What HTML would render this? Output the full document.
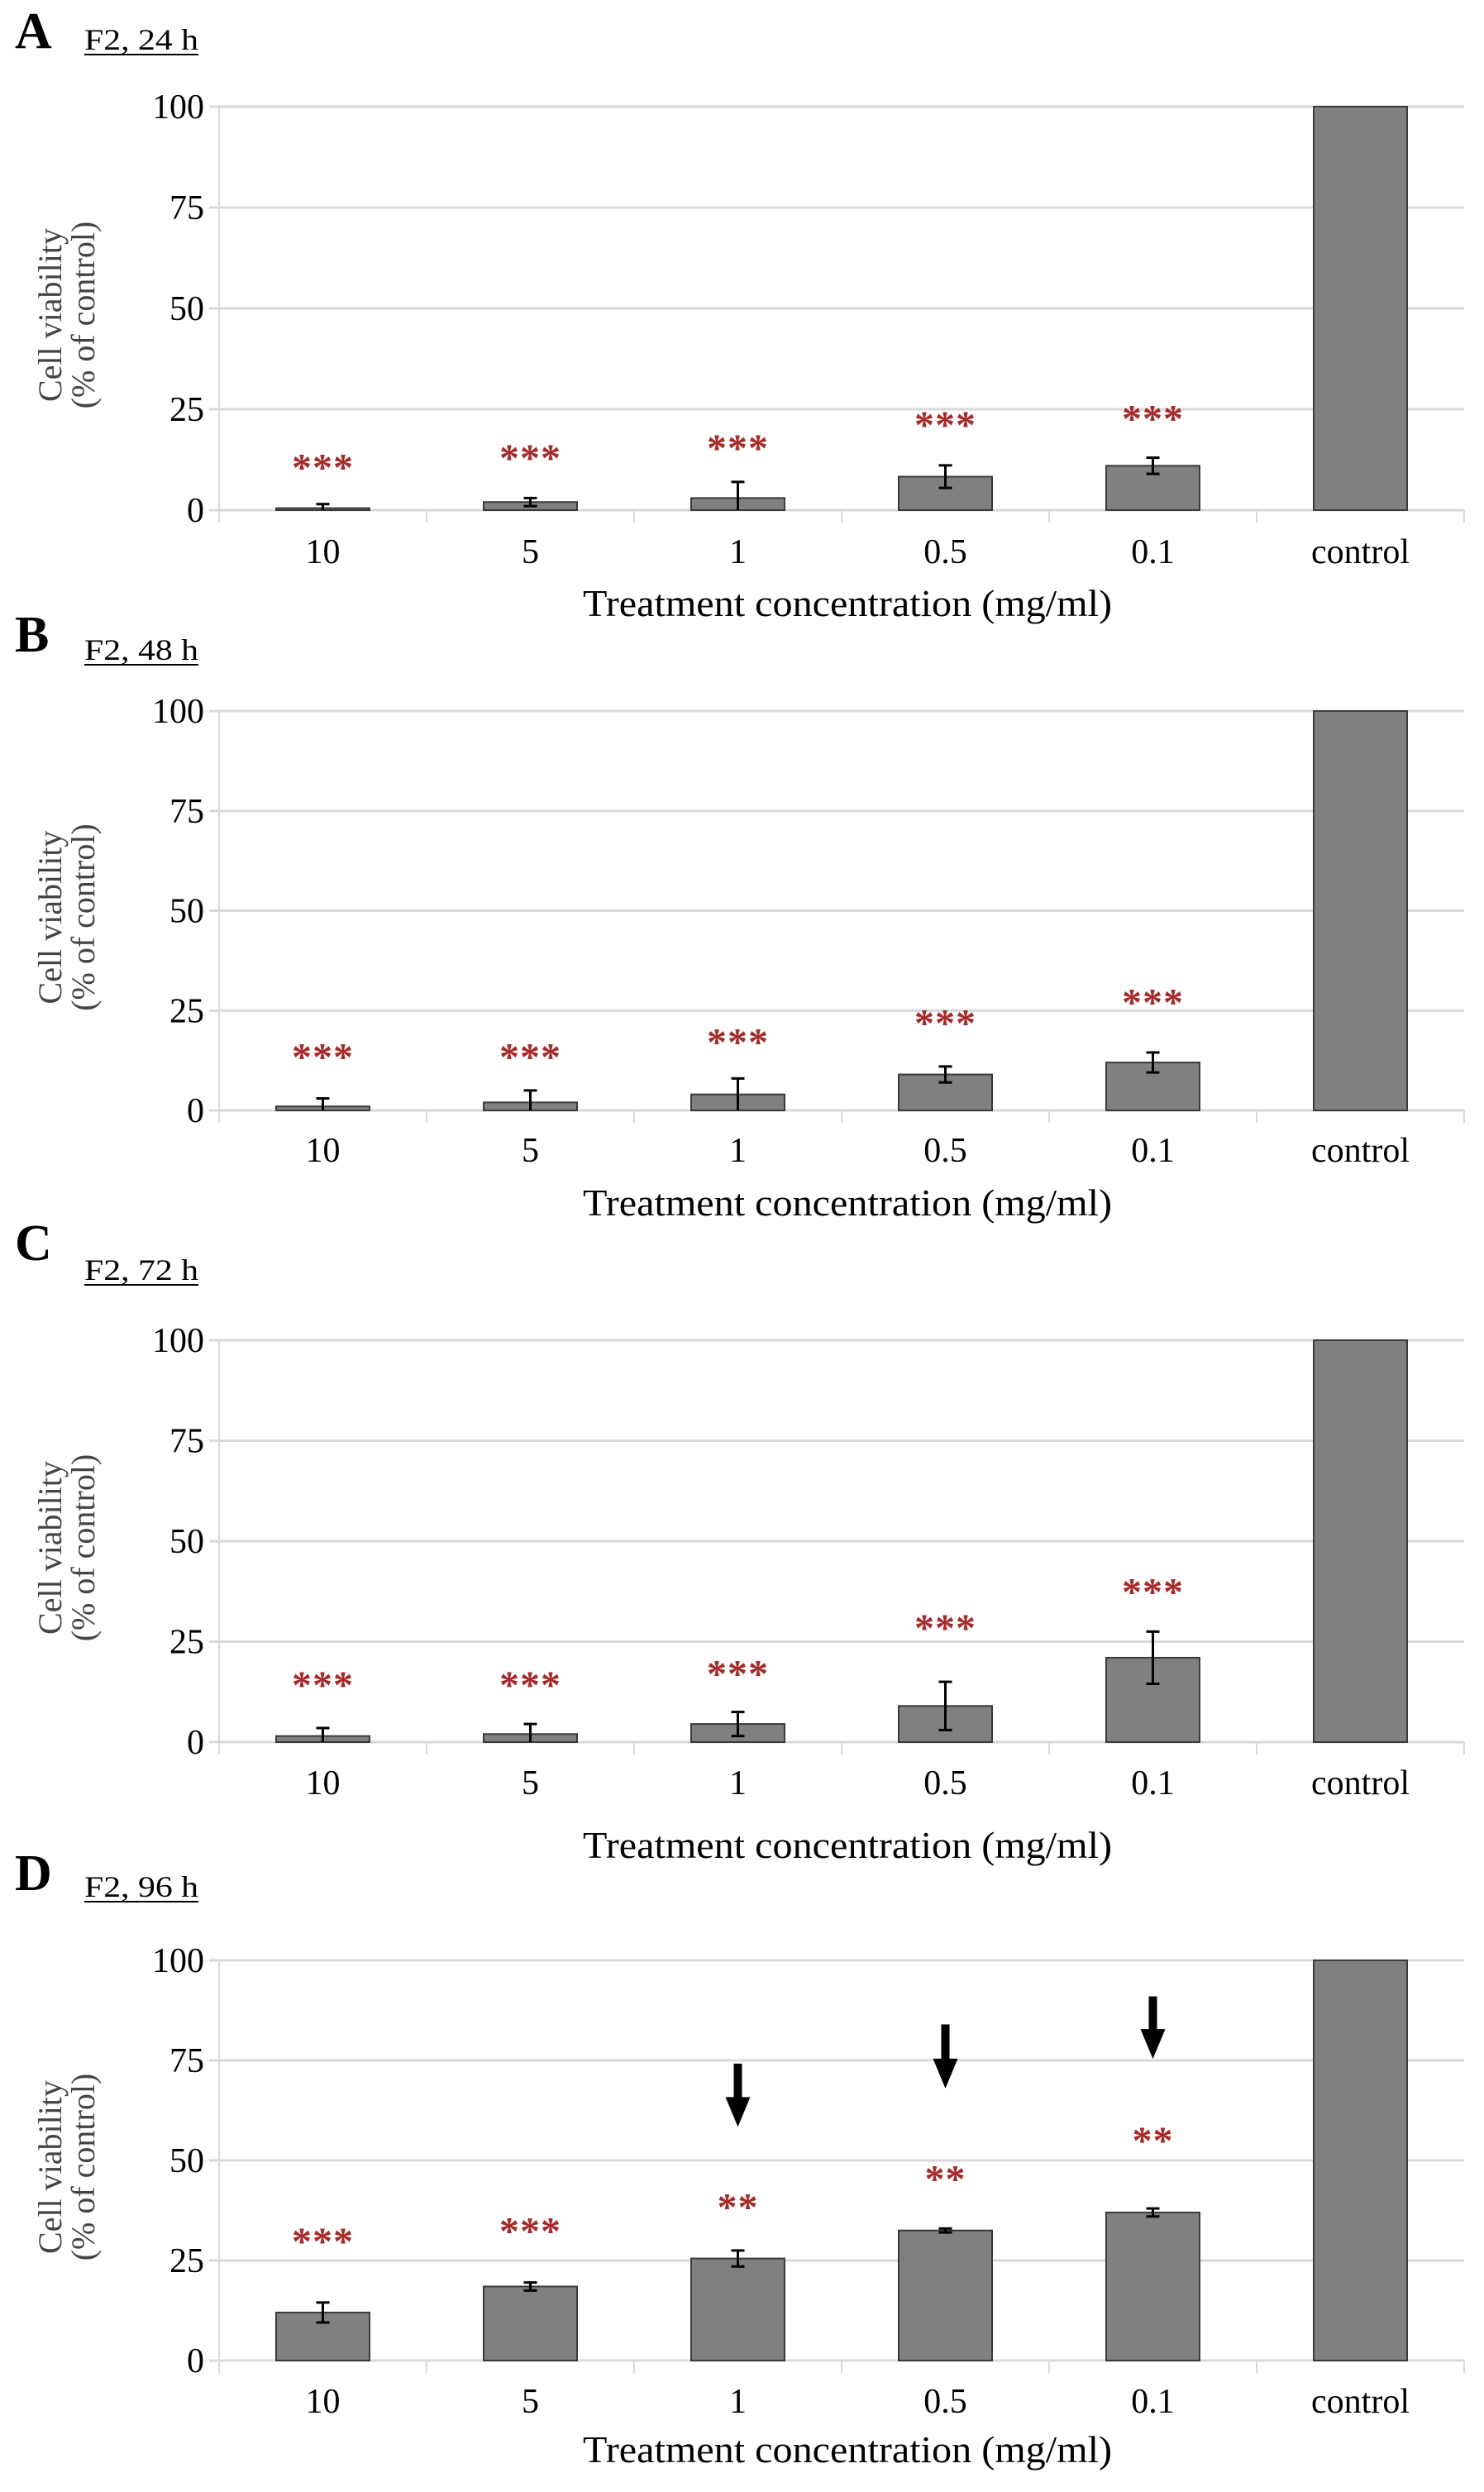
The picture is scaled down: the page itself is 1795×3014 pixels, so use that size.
<!DOCTYPE html>
<html><head><meta charset="utf-8">
<style>
html,body{margin:0;padding:0;background:#fff;}
svg{display:block;font-family:"Liberation Serif",serif;}
</style></head>
<body>
<svg id="fig" width="1795" height="3014" viewBox="0 0 1795 3014" font-family="Liberation Serif, serif" xmlns="http://www.w3.org/2000/svg"></svg>
<script>
const categories = ["10","5","1","0.5","0.1","control"];
const yTicks = [0,25,50,75,100];
const panelLetters = ["A","B","C","D"];
const panelTitles = ["F2, 24 h","F2, 48 h","F2, 72 h","F2, 96 h"];
const valuesA = [0.5,2,3,8.3,11,100];
const errorsA = [1,1,4,2.8,2,0];
const starsA = ["***","***","***","***","***",""];
const starPosA = [12.2,14.5,17,22.7,24.3,0];
const valuesB = [1,2,4,9,12,100];
const errorsB = [2,3,4,2,2.5,0];
const starsB = ["***","***","***","***","***",""];
const starPosB = [15,15,18.7,23.5,28.7,0];
const valuesC = [1.5,2,4.5,9,21,100];
const errorsC = [2,2.5,3,6,6.5,0];
const starsC = ["***","***","***","***","***",""];
const starPosC = [15.8,15.8,18.6,30,39,0];
const valuesD = [12,18.5,25.5,32.5,37,100];
const errorsD = [2.5,1,2,0.5,1,0];
const starsD = ["***","***","**","**","**",""];
const starPosD = [31.4,34,40,47,56.6,0];
const arrowTopD = [null,null,74.2,84,91,null];
const arrowTipD = [null,null,58.4,68,75.4,null];

const NS="http://www.w3.org/2000/svg";
const svg=document.getElementById('fig');
const SERIF="Liberation Serif, serif";
function mk(tag,attrs,parent,text){const e=document.createElementNS(NS,tag);for(const k in attrs)e.setAttribute(k,attrs[k]);if(text!==undefined)e.textContent=text;(parent||svg).appendChild(e);return e;}

const layout=[
 {top:129,bot:617,letterY:58,titleY:60,tickY:681,axisY:745},
 {top:860,bot:1343,letterY:788,titleY:798,tickY:1405,axisY:1470},
 {top:1621,bot:2107,letterY:1524,titleY:1548,tickY:2170,axisY:2247},
 {top:2371,bot:2855,letterY:2286,titleY:2294,tickY:2918,axisY:2978}
];
const panels=[[valuesA,errorsA,starsA,starPosA],[valuesB,errorsB,starsB,starPosB],[valuesC,errorsC,starsC,starPosC],[valuesD,errorsD,starsD,starPosD]];
const left=265, catW=251, barW=113;

panels.forEach((p,pi)=>{
  const L=layout[pi];
  const g=mk('g',{'font-family':SERIF});
  
  
  const y=v=>L.bot-(v/100)*(L.bot-L.top);
  const xc=i=>left+catW*(i+0.5);
  const right=left+catW*categories.length;
  let t=mk('text',{x:18,y:L.letterY,'font-size':62,'font-weight':'bold',fill:'#000'},g,panelLetters[pi]);
  
  t=mk('text',{x:102,y:L.titleY,'font-size':36,fill:'#000',textLength:138,lengthAdjust:'spacingAndGlyphs'},g,panelTitles[pi]);
  
  mk('line',{x1:102,x2:240,y1:L.titleY+6,y2:L.titleY+6,stroke:'#000','stroke-width':2},g);
  yTicks.forEach(v=>{
    const gl=mk('line',{x1:left-12,x2:right,y1:y(v),y2:y(v),stroke:'#d9d9d9','stroke-width':3},g);
    
    const tl=mk('text',{x:left-18,y:y(v)+14,'font-size':42,'text-anchor':'end',fill:'#000'},g,String(v));
    
  });
  mk('line',{x1:left,x2:left,y1:L.top,y2:L.bot+15,stroke:'#d9d9d9','stroke-width':2},g);
  for(let i=1;i<=categories.length;i++){mk('line',{x1:left+catW*i,x2:left+catW*i,y1:L.bot,y2:L.bot+15,stroke:'#d9d9d9','stroke-width':2},g);}
  const yt=mk('text',{transform:`translate(74,${(L.top+L.bot)/2+8}) rotate(-90)`,'font-size':40,'text-anchor':'middle',fill:'#444'},g);
  
  mk('tspan',{x:0,dy:0},yt,'Cell viability');
  mk('tspan',{x:0,dy:40},yt,'(% of control)');
  const [vals,errs,stars,starPos]=p;
  categories.forEach((c,i)=>{
    const b=mk('rect',{x:xc(i)-barW/2,y:y(vals[i]),width:barW,height:y(0)-y(vals[i]),fill:'#808080',stroke:'#3a3a3a','stroke-width':2},g);
    
    if(errs[i]>0){
      const lo=Math.max(0,vals[i]-errs[i]),hi=vals[i]+errs[i];
      const e=mk('g',{stroke:'#000','stroke-width':3},g);
      
      mk('line',{x1:xc(i),x2:xc(i),y1:y(lo),y2:y(hi)},e);
      mk('line',{x1:xc(i)-8,x2:xc(i)+8,y1:y(hi),y2:y(hi)},e);
      if(lo>0)mk('line',{x1:xc(i)-8,x2:xc(i)+8,y1:y(lo),y2:y(lo)},e);
    }
    if(stars[i]){
      const s=mk('text',{x:xc(i),y:y(starPos[i])+24,'font-size':48,'font-weight':'bold','text-anchor':'middle',fill:'#a52a2a','letter-spacing':1},g,stars[i]);
      
    }
    const tl=mk('text',{x:xc(i),y:L.tickY,'font-size':42,'text-anchor':'middle',fill:'#000'},g,c);
    
    if(pi===3 && arrowTopD[i]!==null){
      const a=mk('g',{},g);
      
      const tp=y(arrowTopD[i]),tip=y(arrowTipD[i]);
      mk('rect',{x:xc(i)-5,y:tp,width:10,height:tip-tp-32,fill:'#000'},a);
      mk('polygon',{points:`${xc(i)-15},${tip-36} ${xc(i)+15},${tip-36} ${xc(i)},${tip}`,fill:'#000'},a);
    }
  });
  const at=mk('text',{x:705,y:L.axisY,'font-size':46,fill:'#000',textLength:640,lengthAdjust:'spacingAndGlyphs'},g,'Treatment concentration (mg/ml)');
  
});
</script>
</body></html>
